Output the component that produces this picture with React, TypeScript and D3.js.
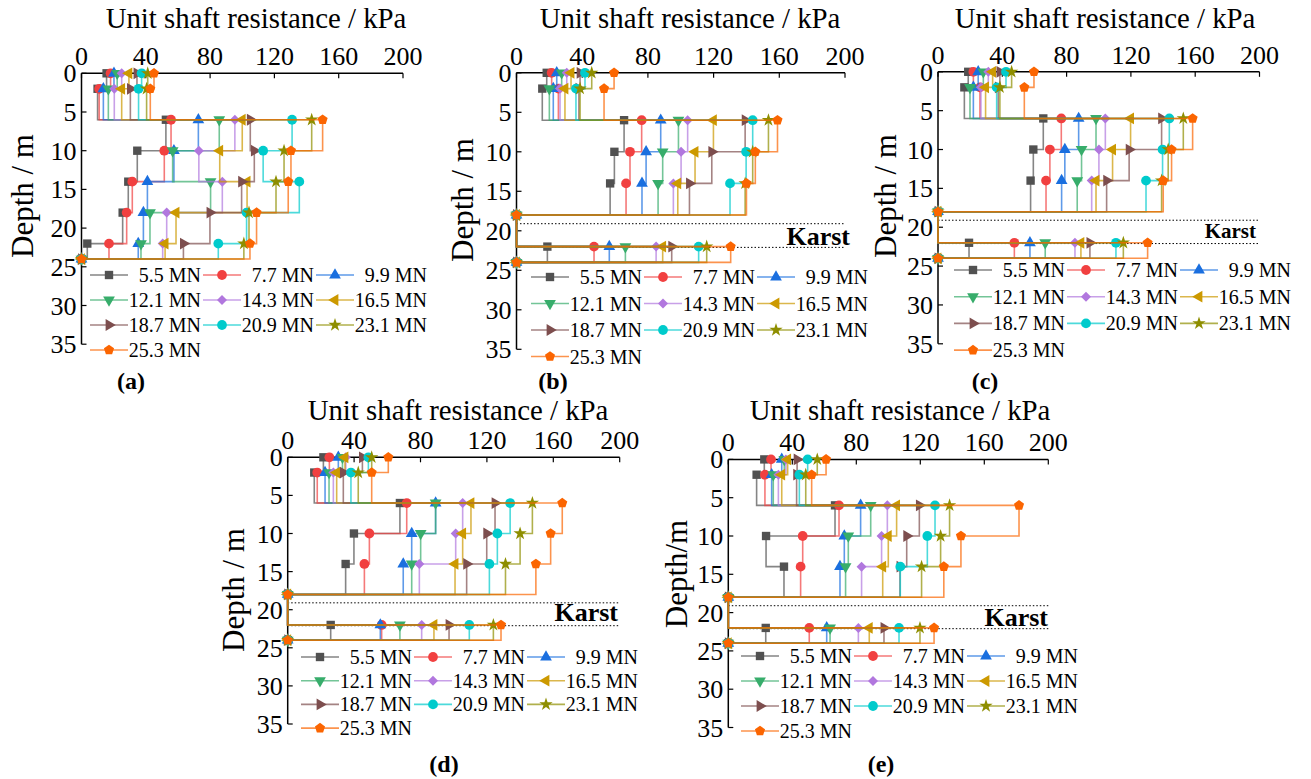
import React from "react";
import * as d3 from "d3";

// load levels and depth stations (m)
const loads = ["5.5 MN", "7.7 MN", "9.9 MN", "12.1 MN", "14.3 MN", "16.5 MN", "18.7 MN", "20.9 MN", "23.1 MN", "25.3 MN"];
const depths = [0, 2, 6, 10, 14, 18, 22, 24];
const xTicks = [0, 40, 80, 120, 160, 200];
const yTicks = [0, 5, 10, 15, 20, 25, 30, 35];
const karstDepths = [19.1, 22.1];

// unit shaft resistance (kPa) for each load, at the depths above
const shaftA = [
  [15.6, 10, 52.5, 34.7, 29.1, 25.6, 3.6, 0],
  [18.1, 11, 55.7, 51.5, 31.6, 28.1, 17.1, 0],
  [20.2, 13.6, 72.7, 57.5, 41, 38.5, 35.3, 0],
  [22.2, 16.7, 85.7, 56.7, 80.3, 42.6, 37, 0],
  [25, 20.4, 95.4, 73, 87.6, 53, 50.5, 0],
  [29.5, 25, 100, 86, 103, 58.8, 52, 0],
  [34.5, 30.4, 105, 107.5, 99.6, 79.9, 63.4, 0],
  [37.4, 35.5, 131, 113, 135.5, 102.7, 85.1, 0],
  [41.2, 40.5, 143.2, 126, 121, 104.2, 101, 0],
  [45.1, 42.8, 150, 130.3, 128.6, 108.9, 104.8, 0],
];
const shaftB = [
  [18.4, 15.7, 65.5, 59.6, 57, 0, 18.8, 0],
  [21.4, 25.5, 76.2, 69.1, 66.7, 0, 47.2, 0],
  [24.5, 22.4, 87.8, 78.9, 76.4, 0, 56.5, 0],
  [27.5, 20, 98.6, 89, 86.2, 0, 66.3, 0],
  [30.6, 26.5, 104.2, 100.2, 95.5, 0, 85, 0],
  [33.2, 29.5, 119.9, 108.7, 98.2, 0, 89, 0],
  [38.7, 38, 139.2, 118.9, 105.3, 0, 94.5, 0],
  [41.7, 36.2, 143.8, 139.8, 130, 0, 110.9, 0],
  [45.8, 38.7, 153.4, 143.8, 139.2, 0, 115.8, 0],
  [59.4, 53.3, 158.9, 145.4, 140, 0, 130.4, 0],
];
const shaftC = [
  [18.8, 16.4, 65.5, 59.3, 57.6, 0, 19.3, 0],
  [22, 26.1, 76.7, 69.6, 67.2, 0, 47.5, 0],
  [25, 22, 87.5, 78.9, 76.9, 0, 57.2, 0],
  [28.2, 19.9, 98.3, 89.3, 86.6, 0, 66.7, 0],
  [31.3, 26.7, 104.1, 100.1, 95.6, 0, 85.2, 0],
  [34, 29.6, 119.8, 108.6, 98.3, 0, 88.9, 0],
  [38.5, 37.5, 139.1, 118.9, 104.9, 0, 94.5, 0],
  [42.3, 36.5, 143.9, 139.7, 129.4, 0, 110.7, 0],
  [45.8, 38.5, 152.6, 143.2, 139.1, 0, 115.3, 0],
  [59.7, 53.7, 158.4, 145.3, 140.1, 0, 130.4, 0],
];
const shaftD = [
  [21.5, 16, 67.6, 39.9, 34.9, 0, 25.9, 0],
  [25.1, 17.8, 71.7, 49.2, 46.2, 0, 56.6, 0],
  [30.5, 22.5, 89.1, 74.7, 69.6, 0, 55.8, 0],
  [33, 24.9, 89.1, 80.1, 74.7, 0, 67.6, 0],
  [35, 27.5, 105.4, 101.2, 79.3, 0, 80.7, 0],
  [34.5, 29.5, 110.4, 105.4, 100.8, 0, 88.1, 0],
  [45, 33.5, 124.9, 119.9, 107.8, 0, 97.2, 0],
  [48.6, 38.1, 134, 126.3, 121.5, 0, 109.4, 0],
  [50.6, 42.5, 147.4, 140, 131.2, 0, 123.9, 0],
  [60.6, 50.6, 165.4, 158.4, 149.5, 0, 128.5, 0],
];
const shaftE = [
  [22.5, 17.7, 66.7, 23.6, 34.8, 0, 23.4, 0],
  [26.7, 22.9, 69.2, 46.5, 45.2, 0, 50.6, 0],
  [33.4, 27.1, 82.7, 72.5, 69.8, 0, 61.5, 0],
  [35, 28.1, 89, 75, 73.3, 0, 63.6, 0],
  [36, 31.3, 99.4, 95.8, 83.3, 0, 81.3, 0],
  [37.1, 33.4, 105.2, 100, 96.5, 0, 88.1, 0],
  [43, 42.7, 119.4, 111.5, 107.3, 0, 97.3, 0],
  [49.6, 44.4, 129.2, 124.4, 107.5, 0, 106.7, 0],
  [55.6, 48.4, 138.3, 132.7, 120.8, 0, 119.8, 0],
  [61.1, 52.1, 181.7, 145.4, 134.7, 0, 128.6, 0],
];

const colors = ["#515151", "#F14040", "#1A6FDF", "#37AD6B", "#B177DE", "#CC9900", "#7D4E4E", "#00CBCC", "#8E8E00", "#FB6501"];

const FONT = "'Liberation Serif', 'Times New Roman', serif";

const pentagon = (r: number) =>
  "M" + d3.range(5).map((k) => {
    const a = -Math.PI / 2 + (k * 2 * Math.PI) / 5;
    return `${r * Math.cos(a)},${r * Math.sin(a)}`;
  }).join("L") + "Z";

// marker shape + rotation for each series
const markers: { d: string; rot: number }[] = [
  { d: d3.symbol(d3.symbolSquare, 70)()!, rot: 0 },
  { d: d3.symbol(d3.symbolCircle, 75)()!, rot: 0 },
  { d: d3.symbol(d3.symbolTriangle, 60)()!, rot: 0 },
  { d: d3.symbol(d3.symbolTriangle, 60)()!, rot: 180 },
  { d: d3.symbol(d3.symbolSquare, 50)()!, rot: 45 },
  { d: d3.symbol(d3.symbolTriangle, 60)()!, rot: -90 },
  { d: d3.symbol(d3.symbolTriangle, 60)()!, rot: 90 },
  { d: d3.symbol(d3.symbolCircle, 75)()!, rot: 0 },
  { d: d3.symbol(d3.symbolStar, 55)()!, rot: 0 },
  { d: pentagon(5.3), rot: 0 },
];

interface PanelCfg {
  label: string;
  data: number[][];
  karst: boolean;
  x0: number; x1: number; y0: number; y1: number;
  titleX: number; titleY: number;
  yTitle: string; yTitleX: number; yTitleY: number;
  legX: number; legY: number; legDy: number;
  labelX: number; labelY: number;
  karstX?: number; karstY?: number; karstSize?: number;
}

const panels: PanelCfg[] = [
  { label: "(a)", data: shaftA, karst: false, x0: 81.5, x1: 403, y0: 73.3, y1: 344.2, titleX: 256, titleY: 28,
    yTitle: "Depth / m", yTitleX: 22, yTitleY: 196, legX: 90, legY: 275, legDy: 25, labelX: 131, labelY: 389 },
  { label: "(b)", data: shaftB, karst: true, x0: 516.5, x1: 845, y0: 72.8, y1: 349.3, titleX: 690, titleY: 28,
    yTitle: "Depth / m", yTitleX: 462, yTitleY: 200, legX: 531, legY: 277, legDy: 26.5, labelX: 553, labelY: 389,
    karstX: 850, karstY: 245, karstSize: 26 },
  { label: "(c)", data: shaftC, karst: true, x0: 938, x1: 1259.5, y0: 71.8, y1: 343.8, titleX: 1105, titleY: 28,
    yTitle: "Depth / m", yTitleX: 885, yTitleY: 196, legX: 954, legY: 270, legDy: 26.7, labelX: 985, labelY: 389,
    karstX: 1256, karstY: 238, karstSize: 21 },
  { label: "(d)", data: shaftD, karst: true, x0: 287.7, x1: 619.7, y0: 457.3, y1: 724, titleX: 458, titleY: 420,
    yTitle: "Depth / m", yTitleX: 233, yTitleY: 590, legX: 301, legY: 657, legDy: 23.7, labelX: 444, labelY: 772,
    karstX: 618, karstY: 621, karstSize: 26 },
  { label: "(e)", data: shaftE, karst: true, x0: 728.3, x1: 1048.3, y0: 459.4, y1: 727.5, titleX: 900, titleY: 420,
    yTitle: "Depth/m", yTitleX: 676, yTitleY: 574, legX: 741, legY: 656, legDy: 25, labelX: 881, labelY: 772,
    karstX: 1048, karstY: 626, karstSize: 26 },
];

const Panel: React.FC<{ p: PanelCfg }> = ({ p }) => {
  const x = d3.scaleLinear().domain([0, 200]).range([p.x0, p.x1]);
  const y = d3.scaleLinear().domain([0, 35]).range([p.y0, p.y1]);
  const line = d3.line<number>()
    .x((v) => x(v))
    .y((_, i) => y(depths[i]))
    .curve(d3.curveStepBefore);

  return (
    <g>
      {/* axes */}
      <line x1={p.x0} x2={p.x1} y1={p.y0} y2={p.y0} stroke="#000" strokeWidth={1.5} />
      <line x1={p.x0} x2={p.x0} y1={p.y0} y2={p.y1} stroke="#000" strokeWidth={1.5} />
      {xTicks.map((t) => (
        <g key={"xt" + t}>
          <line x1={x(t)} x2={x(t)} y1={p.y0} y2={p.y0 + 5} stroke="#000" strokeWidth={1.2} />
          <text x={x(t)} y={p.y0 - 8} textAnchor="middle" fontSize={26} fontFamily={FONT}>{t}</text>
        </g>
      ))}
      {yTicks.map((t) => (
        <g key={"yt" + t}>
          <line x1={p.x0} x2={p.x0 + 5} y1={y(t)} y2={y(t)} stroke="#000" strokeWidth={1.2} />
          <text x={p.x0 - 5} y={y(t) + 9} textAnchor="end" fontSize={26} fontFamily={FONT}>{t}</text>
        </g>
      ))}
      <text x={p.titleX} y={p.titleY} textAnchor="middle" fontSize={28.8} fontFamily={FONT}>Unit shaft resistance / kPa</text>
      <text transform={`translate(${p.yTitleX},${p.yTitleY}) rotate(-90)`} textAnchor="middle" dominantBaseline="central"
        fontSize={31} fontFamily={FONT}>{p.yTitle}</text>

      {/* karst zone */}
      {p.karst && karstDepths.map((d) => (
        <line key={"k" + d} x1={p.x0} x2={p.x1} y1={y(d)} y2={y(d)} stroke="#000" strokeWidth={1} strokeDasharray="1.5,2" />
      ))}

      {/* series */}
      {p.data.map((s, si) => (
        <g key={"s" + si}>
          <path d={line(s) || ""} fill="none" stroke={colors[si]} strokeOpacity={0.7} strokeWidth={1.6} />
          {s.map((v, i) => (
            <path key={i} d={markers[si].d} fill={colors[si]}
              transform={`translate(${x(v)},${y(depths[i])}) rotate(${markers[si].rot})`} />
          ))}
        </g>
      ))}

      {p.karst && (
        <text x={p.karstX} y={p.karstY} textAnchor="end" fontSize={p.karstSize} fontWeight="bold" fontFamily={FONT}>Karst</text>
      )}

      {/* legend */}
      {loads.map((name, i) => {
        const lx = p.legX + (i % 3) * 113;
        const ly = p.legY + Math.floor(i / 3) * p.legDy;
        return (
          <g key={"l" + i}>
            <line x1={lx} x2={lx + 38} y1={ly} y2={ly} stroke={colors[i]} strokeOpacity={0.7} strokeWidth={1.6} />
            <path d={markers[i].d} fill={colors[i]} transform={`translate(${lx + 19},${ly}) rotate(${markers[i].rot})`} />
            <text x={lx + 111} y={ly + 7} textAnchor="end" fontSize={20} fontFamily={FONT}>{name}</text>
          </g>
        );
      })}

      <text x={p.labelX} y={p.labelY} textAnchor="middle" fontSize={24} fontWeight="bold" fontFamily={FONT}>{p.label}</text>
    </g>
  );
};

export default function App() {
  return (
    <svg width={1311} height={779} style={{ position: "absolute", left: 0, top: 0, background: "#fff" }}>
      <rect width={1311} height={779} fill="#fff" />
      {panels.map((p) => <Panel key={p.label} p={p} />)}
    </svg>
  );
}
